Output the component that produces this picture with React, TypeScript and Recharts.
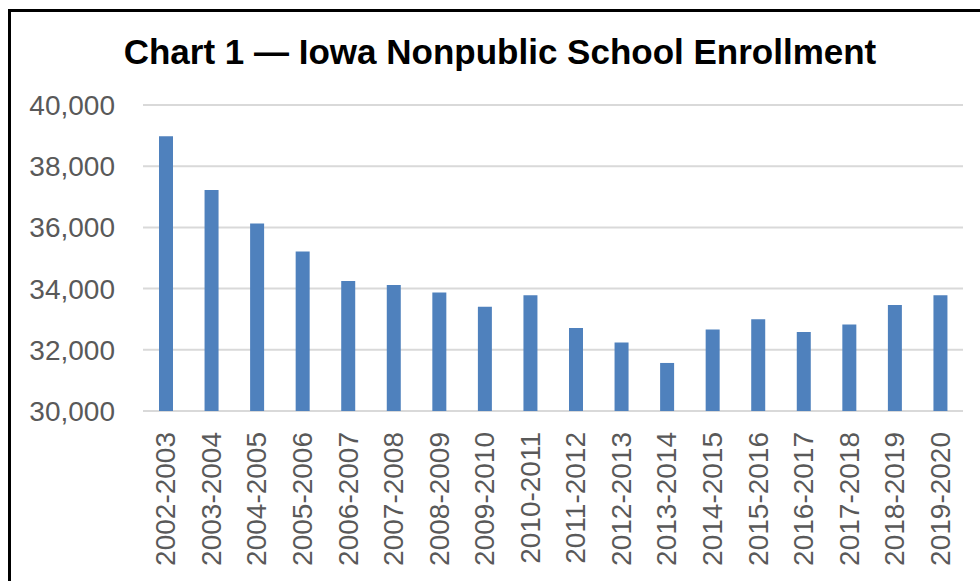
import React from 'react';
import { BarChart, Bar, XAxis, YAxis, CartesianGrid } from 'recharts';

// School years shown along the x axis
const schoolYears = [
  '2002-2003', '2003-2004', '2004-2005', '2005-2006', '2006-2007', '2007-2008',
  '2008-2009', '2009-2010', '2010-2011', '2011-2012', '2012-2013', '2013-2014',
  '2014-2015', '2015-2016', '2016-2017', '2017-2018', '2018-2019', '2019-2020',
];

// Nonpublic enrollment
const enrollment = [
  38980, 37220, 36130, 35210, 34250, 34120,
  33870, 33410, 33780, 32710, 32240, 31570,
  32660, 33000, 32580, 32830, 33460, 33780,
];

const yTicks = [30000, 32000, 34000, 36000, 38000, 40000];

const FONT = '"Liberation Sans", Arial, sans-serif';
const TICK_COLOR = '#595959';

const data = schoolYears.map((year, i) => ({ year, value: enrollment[i] }));

// Rotated category label, reads bottom to top
const YearTick = ({ x, y, payload }: any) => (
  <text
    transform={`translate(${x},${y}) rotate(-90)`}
    textAnchor="end"
    dominantBaseline="central"
    fill={TICK_COLOR}
    fontSize={28}
    fontFamily={FONT}
  >
    {payload.value}
  </text>
);

const App: React.FC = () => {
  return (
    <div style={{ position: 'absolute', left: 0, top: 0, width: 980, height: 581, overflow: 'hidden', background: '#fff' }}>
      {/* frame of the original chart, cut off at right and bottom */}
      <div
        style={{
          position: 'absolute', left: 8, top: 9, width: 1000, height: 600,
          borderLeft: '3px solid #000', borderTop: '3px solid #000',
        }}
      />
      <div
        style={{
          position: 'absolute', left: 0, top: 28, width: 1000, textAlign: 'center',
          fontFamily: FONT, fontWeight: 'bold', fontSize: 35, color: '#000', lineHeight: '48px',
        }}
      >
        Chart 1 — Iowa Nonpublic School Enrollment
      </div>
      <div style={{ position: 'absolute', left: 0, top: 0 }}>
        <BarChart
          width={980}
          height={581}
          data={data}
          margin={{ top: 105, right: 17, left: 0, bottom: 0 }}
        >
          <CartesianGrid vertical={false} stroke="#D9D9D9" strokeWidth={2} />
          <XAxis
            dataKey="year"
            interval={0}
            height={170}
            axisLine={false}
            tickLine={false}
            tickSize={0}
            tickMargin={21}
            tick={<YearTick />}
          />
          <YAxis
            width={143}
            domain={[30000, 40000]}
            ticks={yTicks}
            axisLine={false}
            tickLine={false}
            tickSize={0}
            tickMargin={28}
            tickFormatter={(v: number) => v.toLocaleString('en-US')}
            tick={{ fill: TICK_COLOR, fontSize: 28, fontFamily: FONT }}
          />
          <Bar dataKey="value" fill="#4F81BD" barSize={14} isAnimationActive={false} />
        </BarChart>
      </div>
    </div>
  );
};

export default App;
